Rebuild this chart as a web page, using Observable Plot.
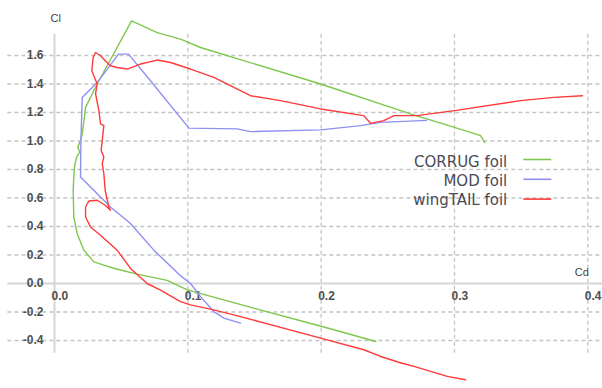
<!DOCTYPE html>
<html><head><meta charset="utf-8">
<script src="https://cdn.jsdelivr.net/npm/d3@7"></script>
<script src="https://cdn.jsdelivr.net/npm/@observablehq/plot@0.6"></script>
<style>body{margin:0;background:#fff}#chart{width:602px;height:388px}</style>
</head><body><div id="chart"></div>
<script>
const seriesNames = ["CORRUG foil", "MOD foil", "wingTAIL foil"];
const seriesColors = ["#7dc84c", "#8f8ff4", "#ff3a3a"];
const xTicks = [0, 0.1, 0.2, 0.3, 0.4];
const yTicks = [-0.4, -0.2, 0, 0.2, 0.4, 0.6, 0.8, 1.0, 1.2, 1.4, 1.6];

// [Cd, Cl]
const corrug = [[0.241,-0.407],[0.2,-0.30],[0.15,-0.175],[0.0996,-0.045],[0.0845,0.022],[0.062,0.066],[0.045,0.105],[0.037,0.129],[0.0295,0.152],[0.022,0.234],[0.017,0.351],[0.0145,0.467],[0.014,0.654],[0.0145,0.747],[0.015,0.817],[0.0165,0.887],[0.019,0.922],[0.0175,0.957],[0.0195,1.003],[0.0208,1.05],[0.0215,1.10],[0.0233,1.236],[0.032,1.40],[0.044,1.605],[0.0578,1.843],[0.077,1.761],[0.0945,1.715],[0.1095,1.656],[0.1996,1.40],[0.267,1.19],[0.30,1.096],[0.3196,1.038],[0.3226,0.99]];
const mod = [[0.1395,-0.278],[0.127,-0.243],[0.1195,-0.197],[0.1095,-0.092],[0.102,0.0],[0.0945,0.055],[0.0745,0.234],[0.057,0.421],[0.042,0.537],[0.0195,0.747],[0.0198,1.0],[0.0208,1.306],[0.032,1.41],[0.048,1.61],[0.0555,1.61],[0.072,1.423],[0.1008,1.09],[0.137,1.085],[0.147,1.066],[0.1996,1.078],[0.2296,1.108],[0.2446,1.131],[0.279,1.145]];
const wingTail = [[0.3083,-0.675],[0.2946,-0.652],[0.2696,-0.582],[0.26,-0.558],[0.2446,-0.512],[0.232,-0.465],[0.1996,-0.383],[0.1395,-0.232],[0.1195,-0.185],[0.102,-0.15],[0.0945,-0.127],[0.0795,-0.046],[0.0695,0.0],[0.057,0.106],[0.047,0.234],[0.0345,0.339],[0.027,0.397],[0.0233,0.467],[0.0233,0.537],[0.0258,0.579],[0.032,0.584],[0.038,0.549],[0.042,0.514],[0.0407,0.537],[0.038,0.654],[0.037,0.771],[0.0358,0.841],[0.037,0.887],[0.035,0.934],[0.0358,1.003],[0.037,1.108],[0.0345,1.12],[0.0333,1.213],[0.0308,1.33],[0.032,1.40],[0.028,1.493],[0.029,1.586],[0.0308,1.621],[0.0345,1.60],[0.038,1.563],[0.042,1.528],[0.047,1.516],[0.0545,1.505],[0.0645,1.54],[0.077,1.568],[0.087,1.551],[0.102,1.505],[0.1195,1.446],[0.147,1.318],[0.1695,1.283],[0.1996,1.225],[0.232,1.178],[0.237,1.124],[0.247,1.143],[0.2546,1.178],[0.272,1.178],[0.30,1.213],[0.3496,1.283],[0.3746,1.306],[0.396,1.318]];

const seriesData = [corrug, mod, wingTail];
const gridX = [-0.035, 0.411];
const gridY = [1.75, -0.49];

const lineMarks = seriesData.map((s, i) =>
  Plot.line(s, {x: d => d[0], y: d => d[1], stroke: seriesColors[i], strokeWidth: 1.4, curve: "linear"}));

const legend = (index, scales, values, dims) => {
  const g = d3.create("svg:g");
  const right = dims.width - dims.marginRight;
  seriesNames.forEach((name, i) => {
    g.append("text").attr("x", right - 80).attr("y", 166.5 + 19.3 * i)
      .attr("text-anchor", "end").attr("font-family", "DejaVu Sans").attr("font-size", 15)
      .attr("fill", "#4a4a56").text(name);
    g.append("line").attr("x1", right - 64).attr("x2", right - 36)
      .attr("y1", 159.5 + 19.8 * i).attr("y2", 159.5 + 19.8 * i)
      .attr("stroke", seriesColors[i]).attr("stroke-width", 1.6);
  });
  return g.node();
};

const chart = Plot.plot({
  width: 602, height: 388,
  marginLeft: 54, marginRight: 14.7, marginTop: 55, marginBottom: 48,
  x: {domain: [0, 0.4], axis: null},
  y: {domain: [-0.4, 1.6], axis: null},
  style: {background: "white", fontFamily: "Liberation Sans"},
  marks: [
    Plot.ruleY(yTicks.filter(d => d !== 0), {y: d => d, x1: gridX[0], x2: gridX[1], stroke: "#c4c4c4", strokeWidth: 1.3, strokeDasharray: "4,3"}),
    Plot.ruleX(xTicks.filter(d => d !== 0), {x: d => d, y1: gridY[0], y2: gridY[1], stroke: "#c4c4c4", strokeWidth: 1.3, strokeDasharray: "4,3"}),
    Plot.ruleY([0], {y: d => d, x1: gridX[0], x2: gridX[1], stroke: "#d6d6d6", strokeWidth: 2}),
    Plot.ruleX([0], {x: d => d, y1: gridY[0], y2: gridY[1], stroke: "#d6d6d6", strokeWidth: 2}),
    Plot.text(yTicks, {y: d => d, frameAnchor: "left", text: d => d.toFixed(1), textAnchor: "end", dx: -11, fontSize: 12, fontWeight: "bold", fill: "#505050"}),
    Plot.text(xTicks, {x: d => d, y: d => 0, text: d => d.toFixed(1), textAnchor: "start", dx: -3, dy: 13, fontSize: 12, fontWeight: "bold", fill: "#505050"}),
    Plot.text(["Cl"], {frameAnchor: "top-left", text: d => d, textAnchor: "start", dx: -4, dy: -41, fontSize: 11, fill: "#444"}),
    Plot.text(["Cd"], {frameAnchor: "top-right", text: d => d, textAnchor: "end", dx: 1, dy: 213, fontSize: 11, fill: "#444"}),
    ...lineMarks,
    legend
  ]
});
document.getElementById("chart").append(chart);
</script>
</body></html>
